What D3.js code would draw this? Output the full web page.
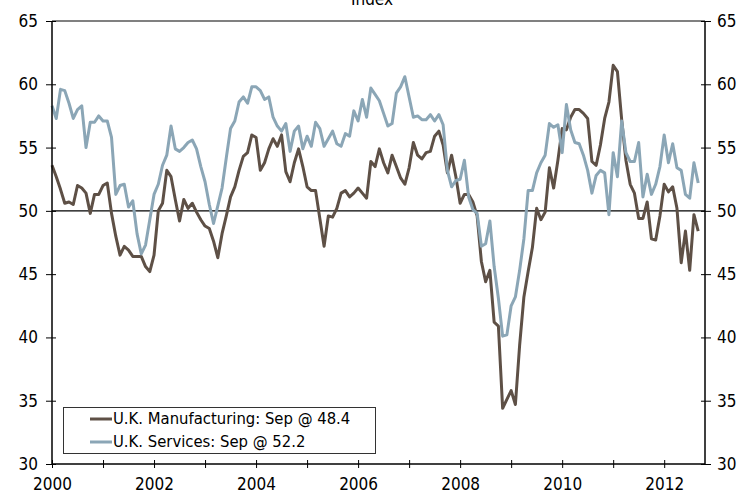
<!DOCTYPE html>
<html>
<head>
<meta charset="utf-8">
<script src="https://cdn.jsdelivr.net/npm/d3@7"></script>
<style>
body { margin: 0; background: #fff; }
svg text { font-family: "DejaVu Sans Condensed", "DejaVu Sans", sans-serif; fill: #000; }
</style>
</head>
<body>
<svg id="chart" width="751" height="494"></svg>
<script>
// monthly PMI, Jan 2000 .. Sep 2012
var manufacturing = [
    53.6, 52.7, 51.7, 50.6, 50.7, 50.5, 52.0, 51.8, 51.4, 49.8, 51.3, 51.3,
    52.0, 52.2, 49.8, 48.0, 46.5, 47.2, 46.9, 46.4, 46.4, 46.4, 45.6, 45.2,
    46.5, 50.0, 50.6, 53.2, 52.7, 50.9, 49.2, 50.9, 50.2, 50.6, 49.9, 49.3,
    48.8, 48.6, 47.6, 46.3, 48.2, 49.6, 51.1, 51.9, 53.2, 54.3, 54.6, 56.0,
    55.8, 53.2, 53.8, 54.9, 55.7, 55.1, 56.0, 53.1, 52.3, 53.8, 54.9, 53.5,
    51.9, 51.6, 51.6, 49.4, 47.2, 49.6, 49.5, 50.2, 51.4, 51.6, 51.1, 51.4,
    51.8, 51.4, 51.0, 53.9, 53.5, 54.9, 53.8, 53.0, 54.4, 53.5, 52.6, 52.1,
    53.4, 55.4, 54.4, 54.1, 54.6, 54.7, 55.9, 56.3, 55.2, 53.0, 54.4, 52.7,
    50.6, 51.3, 51.3, 50.7, 49.6, 46.0, 44.4, 45.3, 41.2, 40.9, 34.4, 35.1,
    35.8, 34.7, 39.4, 43.2, 45.2, 47.1, 50.2, 49.3, 49.9, 53.4, 51.8, 54.0,
    56.5, 56.4, 57.4, 58.0, 58.0, 57.7, 57.3, 53.9, 53.6, 55.2, 57.3, 58.6,
    61.5, 61.0, 57.2, 54.0, 52.1, 51.4, 49.4, 49.4, 50.7, 47.8, 47.7, 49.6,
    52.1, 51.5, 51.9, 50.2, 45.9, 48.4, 45.3, 49.7, 48.4
];
var services = [
    58.3, 57.3, 59.6, 59.5, 58.5, 57.3, 58.0, 58.3, 55.0, 57.0, 57.0, 57.5,
    57.1, 57.1, 55.8, 51.3, 52.0, 52.1, 50.3, 50.8, 48.2, 46.6, 47.3, 49.3,
    51.3, 52.1, 53.6, 54.4, 56.7, 54.9, 54.7, 55.0, 55.4, 55.6, 54.9, 53.5,
    52.3, 50.5, 49.0, 50.4, 51.8, 54.2, 56.5, 57.1, 58.6, 59.0, 58.5, 59.8,
    59.8, 59.5, 58.8, 59.0, 57.4, 56.7, 56.3, 56.9, 54.7, 56.3, 56.7, 54.9,
    55.9, 55.1, 57.0, 56.5, 55.1, 55.7, 56.3, 55.3, 55.1, 56.1, 55.9, 57.9,
    57.1, 58.8, 57.4, 59.7, 59.2, 58.7, 57.7, 56.7, 56.9, 59.3, 59.8, 60.6,
    59.0, 57.4, 57.5, 57.2, 57.2, 57.6, 57.1, 57.6, 56.8, 53.2, 51.9, 52.4,
    52.5, 54.0, 51.1, 50.1, 49.8, 47.2, 47.4, 49.2, 45.6, 43.1, 40.1, 40.2,
    42.5, 43.2, 45.3, 47.8, 51.6, 51.6, 53.0, 53.8, 54.4, 56.9, 56.6, 56.8,
    54.6, 58.4, 56.4, 55.4, 55.3, 54.4, 53.2, 51.4, 52.8, 53.2, 53.0, 49.7,
    54.6, 52.7, 57.1, 54.6, 53.9, 53.9, 55.4, 51.1, 52.9, 51.3, 52.1, 53.5,
    56.0, 53.8, 55.3, 53.4, 53.2, 51.3, 51.0, 53.8, 52.2
];
var yearTicks = d3.range(2000, 2013);
var valueTicks = [30, 35, 40, 45, 50, 55, 60, 65];
var seriesNames = ["U.K. Manufacturing: Sep @ 48.4", "U.K. Services: Sep @ 52.2"];
var seriesColors = ["#5e5046", "#8ba6b6"];

var svg = d3.select("#chart");
var pl = 52, pr = 705, pt = 21, pb = 464;

var x = d3.scaleLinear().domain([2000, 2012.8]).range([pl, pr]);
var y = d3.scaleLinear().domain([30, 65]).range([pb, pt]);

// title, cut off at the top
svg.append("text")
    .attr("x", 372).attr("y", 5)
    .attr("text-anchor", "middle")
    .style("font-size", "17px")
    .text("Index");

// top border
svg.append("line")
    .attr("x1", pl).attr("x2", pr)
    .attr("y1", pt).attr("y2", pt)
    .attr("stroke", "#808080").attr("stroke-width", 2);

// 50 line
svg.append("line")
    .attr("x1", pl).attr("x2", pr)
    .attr("y1", y(50)).attr("y2", y(50))
    .attr("stroke", "#000").attr("stroke-width", 1.2);

var line = d3.line()
    .x(function(d, i) { return x(2000 + i/12); })
    .y(function(d) { return y(d); });

[manufacturing, services].forEach(function(s, k) {
    svg.append("path")
        .datum(s)
        .attr("d", line)
        .attr("fill", "none")
        .attr("stroke", seriesColors[k])
        .attr("stroke-width", 3)
        .attr("stroke-linejoin", "round");
});

// axes
var yl = svg.append("g").attr("transform", "translate(" + pl + ",0)")
    .call(d3.axisLeft(y).tickValues(valueTicks).tickSize(6).tickPadding(8));
yl.selectAll(".tick line").attr("x1", 4);
var yr = svg.append("g").attr("transform", "translate(" + pr + ",0)")
    .call(d3.axisRight(y).tickValues(valueTicks).tickSize(6).tickPadding(6));
yr.selectAll(".tick line").attr("x1", -4);
var xa = svg.append("g").attr("transform", "translate(0," + pb + ")")
    .call(d3.axisBottom(x).tickValues(yearTicks).tickSize(4).tickPadding(10)
        .tickFormat(function(d) { return d % 2 == 0 ? d : ""; }));
xa.selectAll(".tick line").attr("y1", -4);

svg.selectAll(".domain").attr("stroke", "#000").attr("stroke-width", 1.5);
yl.select(".domain").attr("d", "M0," + pt + "V" + pb);
yr.select(".domain").attr("d", "M0," + pt + "V" + pb);
xa.select(".domain").attr("d", "M" + pl + ",0H" + pr);
svg.selectAll(".tick line").attr("stroke", "#000").attr("stroke-width", 1);
svg.selectAll(".tick text").style("font-size", "17px").attr("fill", "#000");

// legend
var lg = svg.append("g");
lg.append("rect")
    .attr("x", 63.5).attr("y", 407.5)
    .attr("width", 312).attr("height", 46)
    .attr("fill", "#fff").attr("stroke", "#333").attr("stroke-width", 1);
seriesNames.forEach(function(name, k) {
    var ly = 419 + k*23;
    lg.append("line")
        .attr("x1", 90).attr("x2", 112)
        .attr("y1", ly).attr("y2", ly)
        .attr("stroke", seriesColors[k]).attr("stroke-width", 3);
    lg.append("text")
        .attr("x", 113).attr("y", ly)
        .attr("dominant-baseline", "middle")
        .style("font-size", "16.5px")
        .text(name);
});
</script>
</body>
</html>
